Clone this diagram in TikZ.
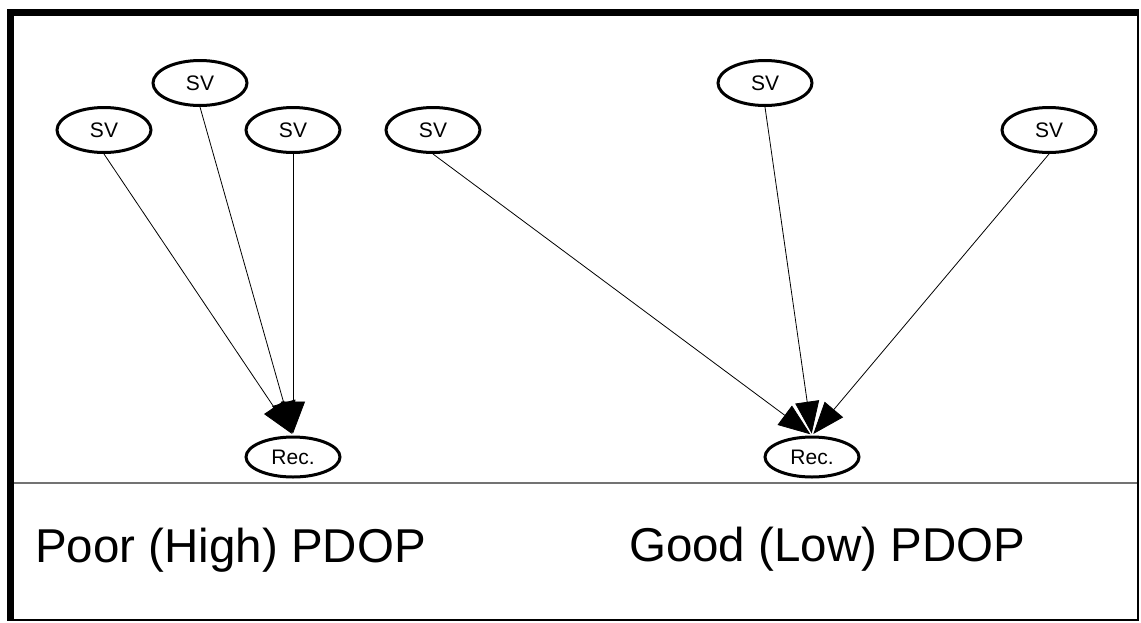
\documentclass[tikz,border=0pt]{standalone}
\usepackage{fontspec}
\setmainfont{Liberation Sans}
\usetikzlibrary{arrows.meta,shapes.geometric}
\begin{document}
\begin{tikzpicture}[x=1pt,y=-1pt,
  sv/.style={draw,ellipse,line width=3pt,minimum width=94pt,minimum height=45pt,inner sep=0pt,font=\fontsize{21}{24}\selectfont},
  rec/.style={sv,minimum height=40pt},
  ray/.style={line width=0.8pt,-{Triangle[length=32pt,width=24pt]},shorten >=2pt},
  caption/.style={anchor=base west,inner sep=0pt,font=\fontsize{47.5}{56}\selectfont},
  frame/.style={line width=7pt},
  thinframe/.style={line width=2.5pt},
  divider/.style={line width=2pt,draw=black!55}]
\useasboundingbox (0,0) rectangle (1141,622);
% frame
\draw[thinframe] (10.5,619.8) -- (1137.8,619.8) -- (1137.8,12.5);
\draw[frame] (10.5,620.8) -- (10.5,12.5) -- (1139,12.5);
\draw[divider] (14,482.5) -- (1136.5,482.5);
% nodes
\node[sv] (sv1) at (104,130) {SV};
\node[sv] (sv2) at (200,83) {SV};
\node[sv] (sv3) at (293,130) {SV};
\node[sv] (sv4) at (433,130) {SV};
\node[sv] (sv5) at (765,83) {SV};
\node[sv] (sv6) at (1049,130) {SV};
\node[rec] (rec1) at (293,457) {Rec.};
\node[rec] (rec2) at (812,457) {Rec.};
% rays
\draw[ray] (sv1.south) -- (rec1.north);
\draw[ray] (sv2.south) -- (rec1.north);
\draw[ray] (sv3.south) -- (rec1.north);
\draw[ray] (sv4.south) -- (rec2.north);
\draw[ray] (sv5.south) -- (rec2.north);
\draw[ray] (sv6.south) -- (rec2.north);
% captions
\node[caption] (poor) at (35,562) {Poor (High) PDOP};
\node[caption] (good) at (629,561) {Good (Low) PDOP};
\end{tikzpicture}
\end{document}
